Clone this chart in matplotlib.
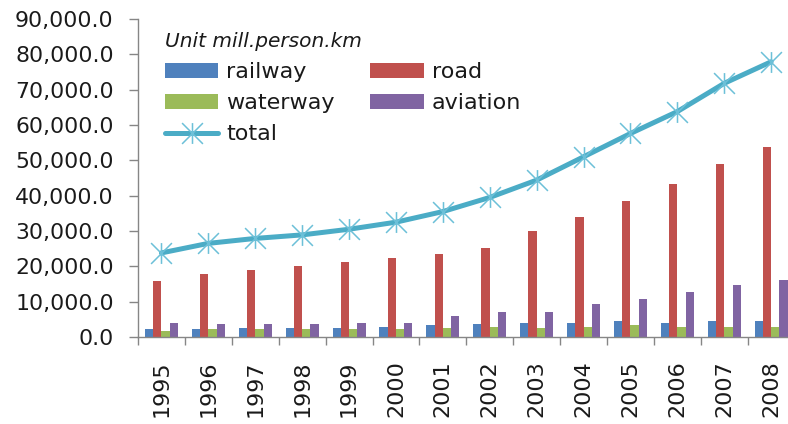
import matplotlib
matplotlib.use("Agg")
import matplotlib.pyplot as plt
from matplotlib.path import Path
import numpy as np

years = ["1995", "1996", "1997", "1998", "1999", "2000", "2001",
         "2002", "2003", "2004", "2005", "2006", "2007", "2008"]
railway = [2170, 2170, 2550, 2550, 2550, 2920, 3300,
           3680, 4050, 4050, 4430, 4050, 4430, 4430]
road = [15850, 17750, 18880, 20000, 21140, 22270, 23400,
        25200, 30100, 33900, 38400, 43300, 49050, 53860]
waterway = [1790, 2170, 2170, 2170, 2170, 2170, 2550,
            2740, 2550, 2920, 3300, 2920, 2920, 2920]
aviation = [4050, 3680, 3680, 3680, 4050, 4050, 5940,
            7080, 7080, 9340, 10850, 12740, 14630, 16130]
total = [23800, 26500, 27900, 28900, 30500, 32500, 35500,
         39500, 44400, 51000, 57600, 63800, 71800, 77900]
yticks = [0, 10000, 20000, 30000, 40000, 50000, 60000, 70000, 80000, 90000]

colors = {"railway": "#4f81bd", "road": "#c0504d", "waterway": "#9bbb59",
          "aviation": "#8064a2", "total": "#4bacc6"}
axis_grey = "#868686"
text_col = "#1a1a1a"

W, H = 788, 424
fig = plt.figure(figsize=(W / 100, H / 100), dpi=100)
ax = fig.add_axes([138 / W, (H - 337) / H, (794.6 - 138) / W, (337 - 19) / H])

x = np.arange(len(years))
bw = 0.176
series = [("railway", railway), ("road", road), ("waterway", waterway), ("aviation", aviation)]
handles = {}
for k, (name, vals) in enumerate(series):
    handles[name] = ax.bar(x + (k - 1.5) * bw, vals, width=bw, color=colors[name],
                           label=name, zorder=2)

star = Path([(0, -1), (0, 1), (-1, -1), (1, 1), (-1, 1), (1, -1)],
            [Path.MOVETO, Path.LINETO, Path.MOVETO, Path.LINETO, Path.MOVETO, Path.LINETO])
(line,) = ax.plot(x, total, color=colors["total"], lw=3.6, marker=star, markersize=15,
                  markeredgecolor="#6cc0d8", markeredgewidth=1.1, label="total", zorder=3,
                  solid_capstyle="round", solid_joinstyle="round")
handles["total"] = line

ax.set_xlim(-0.5, len(years) - 0.5)
ax.set_ylim(0, 90000)
ax.set_yticks(yticks)
ax.set_yticklabels([f"{v:,.1f}" for v in yticks])

ax.set_xticks(np.arange(len(years) + 1) - 0.5)
ax.set_xticklabels([])
ax.set_xticks(x, minor=True)
ax.set_xticklabels(years, minor=True, rotation=90)

ax.tick_params(axis="x", which="major", length=6, width=1, color=axis_grey, direction="out")
ax.tick_params(axis="x", which="minor", length=0, pad=17, labelsize=16, labelcolor=text_col)
ax.tick_params(axis="y", length=6.5, width=1, color=axis_grey, direction="out",
               pad=11, labelsize=15.8, labelcolor=text_col)

for s in ["top", "right"]:
    ax.spines[s].set_visible(False)
for s in ["left", "bottom"]:
    ax.spines[s].set_color(axis_grey)
    ax.spines[s].set_linewidth(1)

order = ["railway", "waterway", "total", "road", "aviation"]
leg = fig.legend([handles[n] for n in order], order, ncol=2,
                 loc="upper left", bbox_to_anchor=(165 / W, (H - 32) / H),
                 frameon=False, fontsize=16, handlelength=2.4, handleheight=0.63,
                 handletextpad=0.36, columnspacing=1.6, labelspacing=0.5,
                 borderpad=0, borderaxespad=0,
                 title="Unit mill.person.km",
                 title_fontproperties={"size": 14.5, "style": "italic"},
                 alignment="left")
for t in leg.get_texts():
    t.set_color(text_col)
leg.get_title().set_color(text_col)

fig.savefig("out.png", dpi=100)
